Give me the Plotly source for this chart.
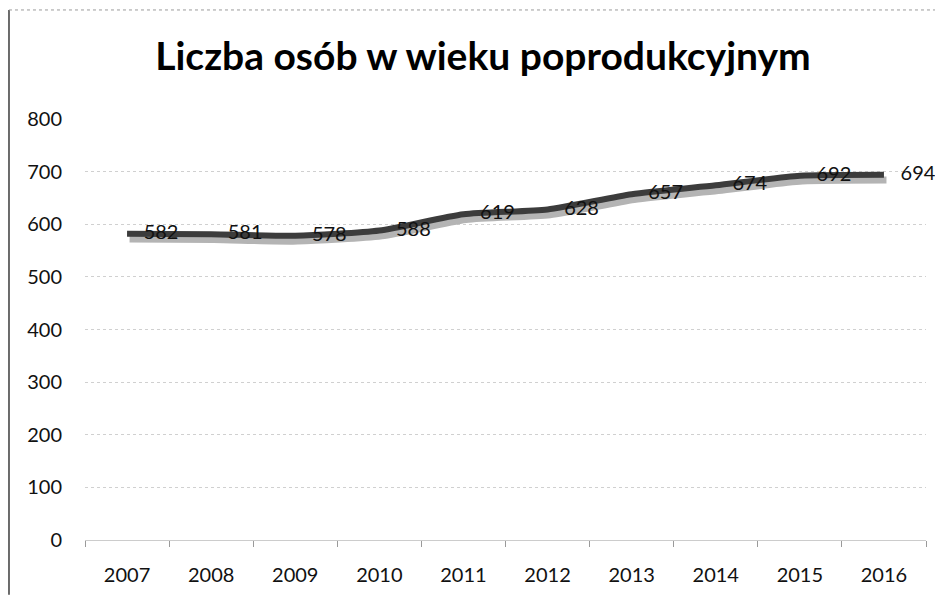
import plotly.graph_objects as go

years = ["2007", "2008", "2009", "2010", "2011", "2012", "2013", "2014", "2015", "2016"]
values = [582, 581, 578, 588, 619, 628, 657, 674, 692, 694]
y_ticks = [0, 100, 200, 300, 400, 500, 600, 700, 800]
title_text = "Liczba osób w wieku poprodukcyjnym"

FONT = "Lato"

fig = go.Figure()

# shadow: on the hidden base axes, whose ranges are shifted a few pixels
fig.add_trace(go.Scatter(
    x=years, y=values, mode="lines", xaxis="x", yaxis="y",
    line=dict(color="#b4b4b4", width=7, shape="spline", smoothing=0.6),
    hoverinfo="skip", showlegend=False,
))

# main line on the visible overlay axes
fig.add_trace(go.Scatter(
    x=years, y=values, mode="lines", xaxis="x2", yaxis="y2",
    line=dict(color="#3c3c3c", width=6, shape="spline", smoothing=0.6),
    showlegend=False,
))

# data labels on top
fig.add_trace(go.Scatter(
    x=years, y=values, mode="markers+text", xaxis="x2", yaxis="y2",
    marker=dict(size=25, color="rgba(0,0,0,0)"),
    text=[str(v) for v in values], textposition="middle right",
    textfont=dict(family=FONT, size=20, color="#111111"),
    cliponaxis=False, showlegend=False, hoverinfo="skip",
))

fig.update_layout(
    width=935, height=590,
    margin=dict(l=77, r=17, t=111, b=55),
    paper_bgcolor="white", plot_bgcolor="white",
    title=dict(text="<b>" + title_text + "</b>", x=0.508, xanchor="center",
               y=0.918, yanchor="middle",
               font=dict(family=FONT, size=39, color="#000000")),
    xaxis=dict(type="category", categoryorder="array", categoryarray=years,
               range=[-0.53, 9.47], visible=False),
    yaxis=dict(range=[10, 810], visible=False),
    xaxis2=dict(type="category", categoryorder="array", categoryarray=years,
                overlaying="x", side="bottom",
                range=[-0.5, 9.5], showgrid=False, showline=True,
                linecolor="#cccccc", linewidth=1, ticks="outside", ticklen=6,
                tickcolor="#9a9a9a", tickson="boundaries",
                tickfont=dict(family=FONT, size=20, color="#111111"),
                ticklabelstandoff=17, zeroline=False),
    yaxis2=dict(overlaying="y", side="left", range=[0, 800], tickvals=y_ticks,
                showgrid=True, gridcolor="#d0d0d0", griddash="dot", gridwidth=1,
                zeroline=False, showline=False,
                tickfont=dict(family=FONT, size=20, color="#111111"),
                ticklabelstandoff=22),
    shapes=[
        dict(type="line", xref="paper", yref="paper", x0=-0.0904, x1=-0.0904,
             y0=-0.13, y1=1.259, line=dict(color="#6a6a6a", width=2)),
        dict(type="line", xref="paper", yref="paper", x0=-0.0904, x1=1.02,
             y0=1.259, y1=1.259, line=dict(color="#9a9a9a", width=1, dash="dot")),
    ],
)

fig.write_html("out.html")
